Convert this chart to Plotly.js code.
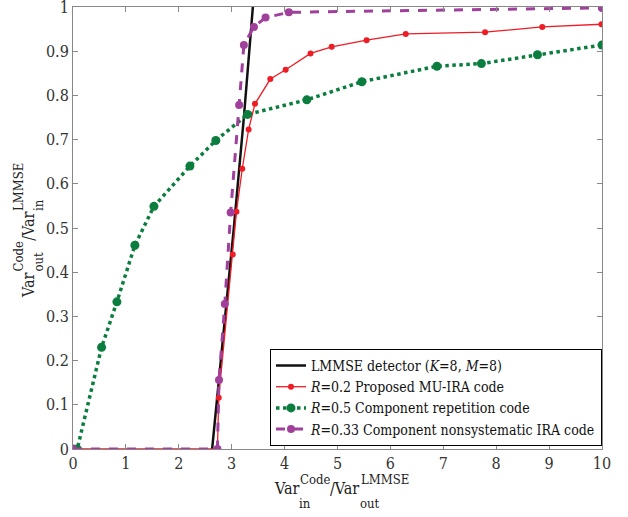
<!DOCTYPE html>
<html><head><meta charset="utf-8">
<script src="https://cdn.plot.ly/plotly-3.0.1.min.js"></script>
<style>body{margin:0;background:#fff}#c{width:628px;height:517px}</style>
</head><body><div id="c"></div>
<script>
const lmmseX = [2.63, 3.04, 3.23, 3.40];
const lmmseY = [0, 0.5, 0.75, 1];
const redX = [0, 2.73, 2.755, 3.02, 3.09, 3.20, 3.32, 3.44, 3.73, 4.02, 4.49, 4.89, 5.55, 6.29, 7.79, 8.87, 9.99];
const redY = [0, 0, 0.116, 0.44, 0.537, 0.634, 0.723, 0.781, 0.837, 0.858, 0.895, 0.910, 0.925, 0.939, 0.943, 0.955, 0.961];
const greenX = [0, 0.08, 0.54, 0.83, 1.17, 1.53, 2.21, 2.70, 3.30, 4.42, 5.46, 6.88, 7.72, 8.78, 10];
const greenY = [0, 0, 0.230, 0.333, 0.461, 0.549, 0.640, 0.698, 0.757, 0.790, 0.831, 0.866, 0.872, 0.892, 0.914];
const magX = [0, 2.73, 2.76, 2.87, 2.98, 3.14, 3.23, 3.42, 3.64, 4.08, 10];
const magY = [0, 0, 0.156, 0.328, 0.535, 0.778, 0.914, 0.955, 0.976, 0.988, 0.998];
const names = ["LMMSE detector (<i>K</i>=8, <i>M</i>=8)",
  "<i>R</i>=0.2 Proposed MU-IRA code",
  "<i>R</i>=0.5 Component repetition code",
  "<i>R</i>=0.33 Component nonsystematic IRA code"];
const xTicks = [0,1,2,3,4,5,6,7,8,9,10];
const yTicks = [0,0.1,0.2,0.3,0.4,0.5,0.6,0.7,0.8,0.9,1];
const yTickText = ["0","0.1","0.2","0.3","0.4","0.5","0.6","0.7","0.8","0.9","1"];
const xTitleParts = ["Var", "Code", "in", "/Var", "LMMSE", "out"];
const yTitleParts = ["Var", "Code", "out", "/Var", "LMMSE", "in"];

const FAM = 'DejaVu Serif Condensed, DejaVu Serif';
const CFAM = '"DejaVu Serif Condensed", "DejaVu Serif"';
const MAIN = 16, SCR = 13;
const W = 628, H = 517, ML = 73, MR = 26, MT = 7, MB = 68;
const PW = W - ML - MR, PH = H - MT - MB;

const cv = document.createElement('canvas').getContext('2d');
function tw(t, s) { cv.font = s + 'px ' + CFAM; return cv.measureText(t).width; }

function titlePieces(parts, center, offMain, offSup, offSub, vertical) {
  const wMain1 = tw(parts[0], MAIN), wSup1 = tw(parts[1], SCR), wSub1 = tw(parts[2], SCR);
  const wMain2 = tw(parts[3], MAIN), wSup2 = tw(parts[4], SCR), wSub2 = tw(parts[5], SCR);
  const gap = 1;
  const b1 = Math.max(wSup1, wSub1), b2 = Math.max(wSup2, wSub2);
  const total = wMain1 + gap + b1 + wMain2 + gap + b2;
  let s = -total / 2;
  const items = [];
  items.push([parts[0], MAIN, s + wMain1 / 2, offMain]);
  let p = s + wMain1 + gap;
  items.push([parts[1], SCR, p + wSup1 / 2, offSup]);
  items.push([parts[2], SCR, p + wSub1 / 2, offSub]);
  p += b1;
  items.push([parts[3], MAIN, p + wMain2 / 2, offMain]);
  p += wMain2 + gap;
  items.push([parts[4], SCR, p + wSup2 / 2, offSup]);
  items.push([parts[5], SCR, p + wSub2 / 2, offSub]);
  return items.map(([t, sz, along, across]) => {
    let px, py;
    if (!vertical) { px = center[0] + along; py = center[1] + across; }
    else { px = center[0] + across; py = center[1] - along; }
    return {
      text: t, xref: 'paper', yref: 'paper', showarrow: false,
      x: (px - ML) / PW, y: (H - MB - py) / PH, xanchor: 'center', yanchor: 'middle',
      textangle: vertical ? -90 : 0,
      font: {family: FAM, size: sz, color: '#222'}
    };
  });
}
const annotations = [].concat(
  titlePieces(xTitleParts, [341.5, 489], 0, -10, 14, false),
  titlePieces(yTitleParts, [29, 230], 0, -10, 9.5, true)
);

const traces = [
  {x: lmmseX, y: lmmseY, name: names[0], mode: 'lines', line: {color: '#111', width: 2.5}},
  {x: redX, y: redY, name: names[1], mode: 'lines+markers', line: {color: '#ee1c25', width: 1.3}, marker: {color: '#ee1c25', size: 6}},
  {x: greenX, y: greenY, name: names[2], mode: 'lines+markers', line: {color: '#0b7d3e', width: 3.5, dash: 'dot'}, marker: {color: '#0b7d3e', size: 9}},
  {x: magX, y: magY, name: names[3], mode: 'lines+markers', line: {color: '#a0409c', width: 3, dash: 'dash'}, marker: {color: '#a0409c', size: 8}}
];
const axisCommon = {showgrid: false, zeroline: false, showline: true, mirror: 'ticks',
  linecolor: '#888', linewidth: 1, ticks: 'inside', ticklen: 5, tickcolor: '#888',
  ticklabeloverflow: 'allow', tickfont: {family: FAM, size: 16, color: '#333'}};
const layout = {
  width: W, height: H,
  margin: {l: ML, r: MR, t: MT, b: MB},
  paper_bgcolor: '#fff', plot_bgcolor: '#fff',
  font: {family: FAM, size: 14, color: '#222'},
  showlegend: true,
  legend: {x: 1, xanchor: 'right', y: 0.007, yanchor: 'bottom', bordercolor: '#000', borderwidth: 1, bgcolor: '#fff',
    font: {family: FAM, size: 14, color: '#111'}, tracegroupgap: 0},
  xaxis: Object.assign({range: [0, 10], tickvals: xTicks}, axisCommon),
  yaxis: Object.assign({range: [0, 1], tickvals: yTicks, ticktext: yTickText}, axisCommon),
  annotations: annotations
};
Plotly.newPlot('c', traces, layout, {displayModeBar: false, staticPlot: true});
</script></body></html>
